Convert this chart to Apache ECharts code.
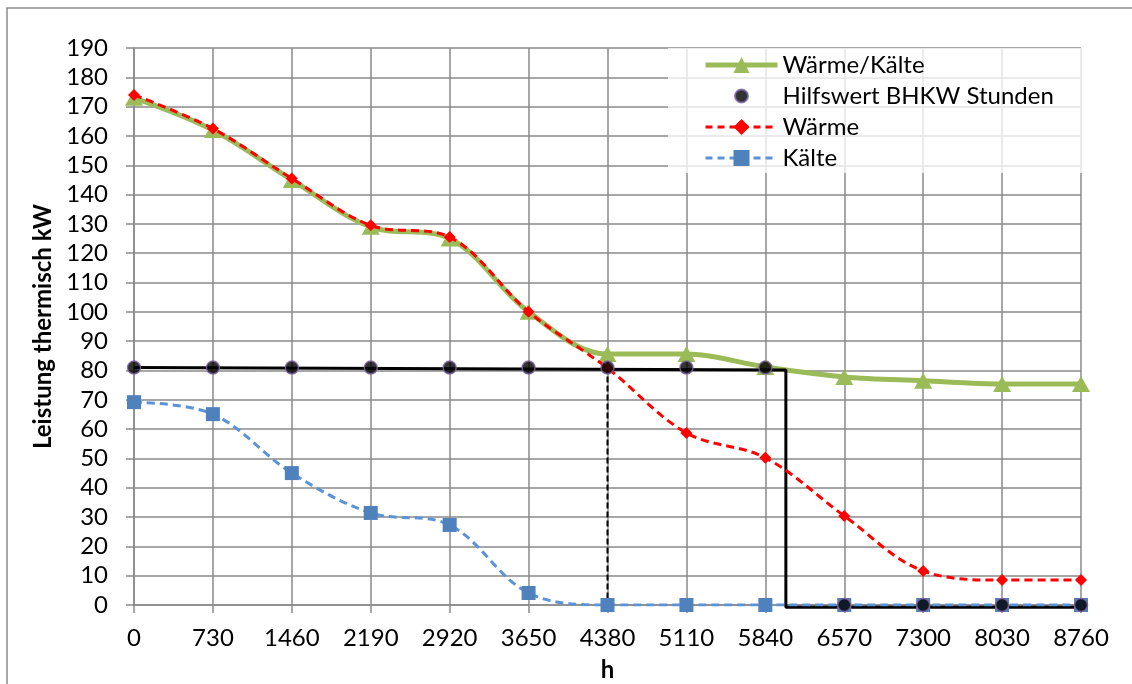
<!DOCTYPE html>
<html>
<head>
<meta charset="utf-8">
<script src="https://cdn.jsdelivr.net/npm/echarts@6/dist/echarts.min.js"></script>
<style>
  html, body { margin: 0; padding: 0; background: #fff; }
  #chart { width: 1132px; height: 684px; }
</style>
</head>
<body>
<div id="chart"></div>
<script>
// Hours of the year (x positions of the data points)
const hours = [0, 730, 1460, 2190, 2920, 3650, 4380, 5110, 5840, 6570, 7300, 8030, 8760];

// Thermal load in kW
const waermeKaelte = [173, 162, 145, 129, 125, 100, 85.6, 85.6, 81.2, 77.8, 76.5, 75.4, 75.4];
const waerme       = [174, 162.5, 145.5, 129.5, 125.5, 100, 80.8, 58.7, 50.2, 30.4, 11.6, 8.5, 8.5];
const kaelte       = [69.2, 65.1, 45, 31.4, 27.3, 4.1, 0, 0, 0, 0, 0, 0, 0];
const hilfswert    = [81, 81, 81, 81, 81, 81, 81, 81, 81, 0, 0, 0, 0];

// Operating-hours helper lines of the CHP unit
const bhkwStepX = [0, 6030, 6030, 8760];
const bhkwStepY = [81, 80.2, -0.8, -0.8];
const markerX   = [4380, 4380];
const markerY   = [81, 0];

const pairs = (xs, ys) => xs.map((x, i) => [x, ys[i]]);

const FONT = 'Lato';
const FS = 24;
const GRID = '#8a8a8a';

const chart = echarts.init(document.getElementById('chart'));
chart.setOption({
  animation: false,
  textStyle: { fontFamily: FONT, color: '#000' },
  graphic: [{
    type: 'rect',
    shape: { x: 7, y: 8, width: 1300, height: 900 },
    style: { fill: 'none', stroke: '#8c8c8c', lineWidth: 1.5 },
    silent: true, z: -10
  }],
  grid: { left: 134, right: 51, top: 48, bottom: 79, outerBoundsMode: 'none' },
  legend: {
    orient: 'vertical',
    left: 668, top: 48,
    padding: [5, 30, 3, 35],
    backgroundColor: 'rgba(255,255,255,0.78)',
    itemWidth: 72, itemHeight: 20, itemGap: 7,
    textStyle: { fontFamily: FONT, fontSize: FS, color: '#000' },
    data: [
      { name: 'Wärme/Kälte', lineStyle: { width: 5, color: '#9BBB59' } },
      { name: 'Hilfswert BHKW Stunden',
        icon: 'path://M0,0M20,20M3.5,10a6.5,6.5 0 1,0 13,0a6.5,6.5 0 1,0 -13,0z' },
      { name: 'Wärme', lineStyle: { width: 3, color: '#FF0000', type: [7, 5] } },
      { name: 'Kälte', lineStyle: { width: 3, color: '#5A93D8', type: [7, 5] } }
    ]
  },
  xAxis: {
    type: 'value', min: 0, max: 8760, interval: 730,
    name: 'h', nameLocation: 'middle', nameGap: 53,
    nameTextStyle: { fontFamily: FONT, fontSize: FS, fontWeight: 'bold', color: '#000' },
    axisLine: { show: true, lineStyle: { color: GRID, width: 1.5 } },
    axisTick: { show: true, length: 8, lineStyle: { color: GRID, width: 1.5 } },
    axisLabel: { fontFamily: FONT, fontSize: FS, color: '#000', margin: 21,
                 formatter: v => String(v) },
    splitLine: { show: true, lineStyle: { color: GRID, width: 1.5 } }
  },
  yAxis: {
    type: 'value', min: 0, max: 190, interval: 10,
    name: 'Leistung thermisch kW', nameLocation: 'middle', nameGap: 74,
    nameTextStyle: { fontFamily: FONT, fontSize: FS, fontWeight: 'bold', color: '#000' },
    axisLine: { show: true, lineStyle: { color: GRID, width: 1.5 } },
    axisTick: { show: true, length: 8, lineStyle: { color: GRID, width: 1.5 } },
    axisLabel: { fontFamily: FONT, fontSize: FS, color: '#000', margin: 26 },
    splitLine: { show: true, lineStyle: { color: GRID, width: 1.5 } }
  },
  series: [
    {
      name: 'Wärme/Kälte', type: 'line', z: 2,
      data: pairs(hours, waermeKaelte),
      smooth: 0.35,
      lineStyle: { color: '#9BBB59', width: 5 },
      itemStyle: { color: '#9BBB59' },
      symbol: 'triangle', symbolSize: [18, 16], showAllSymbol: true
    },
    {
      name: 'BHKW Stufe', type: 'line', z: 3, clip: false,
      data: pairs(bhkwStepX, bhkwStepY),
      showSymbol: false, symbol: 'none',
      lineStyle: { color: '#000', width: 3 },
      silent: true
    },
    {
      name: 'BHKW Marke', type: 'line', z: 3,
      data: pairs(markerX, markerY),
      showSymbol: false, symbol: 'none',
      lineStyle: { color: '#000', width: 2, type: [6, 3] },
      silent: true
    },
    {
      name: 'Kälte', type: 'line', z: 4,
      data: pairs(hours, kaelte),
      smooth: 0.35,
      lineStyle: { color: '#5A93D8', width: 3, type: [8, 5] },
      itemStyle: { color: '#4F81BD' },
      symbol: 'rect', symbolSize: 14, showAllSymbol: true
    },
    {
      name: 'Wärme', type: 'line', z: 5,
      data: pairs(hours, waerme),
      smooth: 0.35,
      lineStyle: { color: '#FF0000', width: 3, type: [8, 5] },
      itemStyle: { color: '#FF0000' },
      symbol: 'diamond', symbolSize: 12, showAllSymbol: true
    },
    {
      name: 'Hilfswert BHKW Stunden', type: 'scatter', z: 6,
      data: pairs(hours, hilfswert),
      symbol: 'circle', symbolSize: 13,
      itemStyle: { color: '#000', borderColor: '#8064A2', borderWidth: 1.5 }
    }
  ]
});
</script>
</body>
</html>
